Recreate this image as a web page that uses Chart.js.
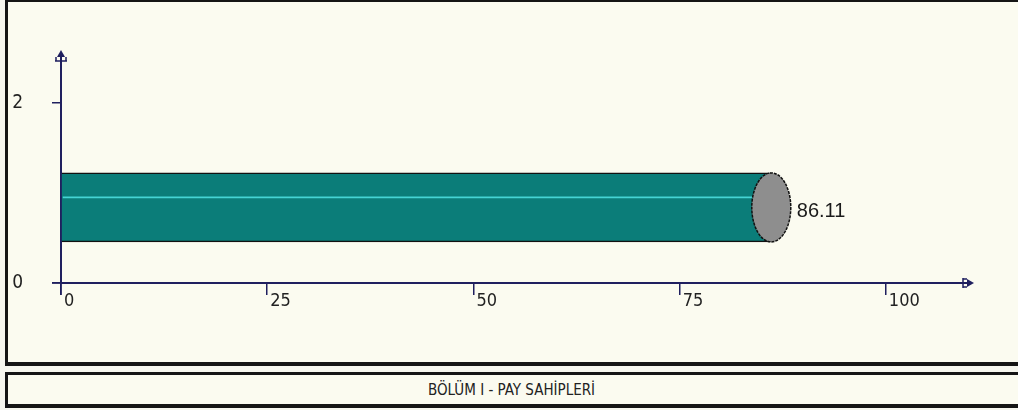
<!DOCTYPE html>
<html>
<head>
<meta charset="utf-8">
<script src="https://cdn.jsdelivr.net/npm/chart.js@4.4.1/dist/chart.umd.min.js"></script>
<style>
  html, body { margin:0; padding:0; background:#f6f6ee; width:1018px; height:410px; overflow:hidden; }
  #panel { position:absolute; left:5px; top:0; width:1030px; height:360px; background:#fbfbf0;
           border-top:2px solid #151515; border-left:3px solid #151515; border-bottom:4px solid #151515; }
  #titlebox { position:absolute; left:5px; top:372px; width:1030px; height:29px; background:#fbfbf0;
           border:3px solid #151515; border-bottom-width:4px; border-right:none; }
  #title { position:absolute; left:5px; top:372px; width:1013px; height:36px; line-height:36px; text-align:center;
           font-family:'Liberation Sans Narrow','DejaVu Sans Condensed','Liberation Sans',Arial,sans-serif;
           font-size:15px; color:#222; }
  #wrap { position:absolute; left:0; top:0; width:1018px; height:410px; }
</style>
</head>
<body>
<div id="panel"></div>
<div id="titlebox"></div>
<div id="title">BÖLÜM I - PAY SAHİPLERİ</div>
<div id="wrap"><canvas id="c" width="1018" height="410"></canvas></div>
<script>
// ---- data ----
const categories = ['BÖLÜM I - PAY SAHİPLERİ'];
const scores = [86.11];
const barPositions = [0.84];
const xTickValues = [0, 25, 50, 75, 100];
const yTickValues = [0, 2];
const chartTitle = 'BÖLÜM I - PAY SAHİPLERİ';

const narrow = "'Liberation Sans Narrow','DejaVu Sans Condensed','Liberation Sans',Arial,sans-serif";
const axisColor = '#1f1f5f';

const cylinderPlugin = {
  id: 'cylinder',
  afterDatasetsDraw(chart) {
    const ctx = chart.ctx;
    const meta = chart.getDatasetMeta(0);
    meta.data.forEach((bar, i) => {
      const props = bar.getProps(['x', 'y', 'base', 'height'], true);
      const xEnd = props.x, yc = props.y, h = props.height, base = props.base;
      const rx = 19.5, ry = h / 2;
      ctx.save();
      // highlight line
      ctx.strokeStyle = '#45d4d4';
      ctx.lineWidth = 1.6;
      ctx.beginPath();
      ctx.moveTo(base + 1, yc - h * 0.145);
      ctx.lineTo(xEnd - rx + 1, yc - h * 0.145);
      ctx.stroke();
      // end cap
      ctx.beginPath();
      ctx.ellipse(xEnd, yc, rx, ry, 0, 0, Math.PI * 2);
      ctx.fillStyle = '#8e8e8e';
      ctx.fill();
      ctx.strokeStyle = '#111';
      ctx.lineWidth = 1.5;
      ctx.setLineDash([3, 1]);
      ctx.stroke();
      ctx.setLineDash([]);
      // value label
      ctx.fillStyle = '#1a1a1a';
      ctx.font = "20px 'Liberation Sans',Arial,sans-serif";
      ctx.textAlign = 'left';
      ctx.textBaseline = 'middle';
      ctx.fillText(scores[i].toFixed(2), xEnd + rx + 6, yc + 4);
      ctx.restore();
    });
  }
};

const arrowPlugin = {
  id: 'arrows',
  afterDraw(chart) {
    const ctx = chart.ctx;
    const a = chart.chartArea;
    ctx.save();
    ctx.fillStyle = axisColor;
    ctx.strokeStyle = axisColor;
    ctx.lineWidth = 1.5;
    // axis extensions past the origin (zero ticks)
    ctx.beginPath();
    ctx.moveTo(a.left, a.bottom); ctx.lineTo(a.left, a.bottom + 12);
    ctx.moveTo(a.left, a.bottom); ctx.lineTo(a.left - 9, a.bottom);
    ctx.stroke();
    // y-axis arrow (top)
    const x0 = a.left, yt = a.top;
    ctx.beginPath();
    ctx.moveTo(x0, yt - 5);
    ctx.lineTo(x0 - 4, yt + 2);
    ctx.lineTo(x0 + 4, yt + 2);
    ctx.closePath();
    ctx.fill();
    ctx.beginPath();
    ctx.moveTo(x0 - 6, yt + 6); ctx.lineTo(x0 + 6, yt + 6);
    ctx.moveTo(x0 - 5, yt + 2); ctx.lineTo(x0 - 5, yt + 6);
    ctx.moveTo(x0 + 5, yt + 2); ctx.lineTo(x0 + 5, yt + 6);
    ctx.moveTo(x0, yt); ctx.lineTo(x0, yt + 8);
    ctx.stroke();
    // x-axis arrow (right)
    const xr = a.right, y0 = a.bottom;
    ctx.beginPath();
    ctx.moveTo(xr + 4, y0);
    ctx.lineTo(xr - 3, y0 - 4);
    ctx.lineTo(xr - 3, y0 + 4);
    ctx.closePath();
    ctx.fill();
    ctx.beginPath();
    ctx.moveTo(xr - 7, y0 - 5); ctx.lineTo(xr - 7, y0 + 5);
    ctx.moveTo(xr - 7, y0 - 4); ctx.lineTo(xr - 3, y0 - 4);
    ctx.moveTo(xr - 7, y0 + 4); ctx.lineTo(xr - 3, y0 + 4);
    ctx.moveTo(xr - 10, y0); ctx.lineTo(xr, y0);
    ctx.stroke();
    ctx.restore();
  }
};

new Chart(document.getElementById('c'), {
  type: 'bar',
  data: {
    datasets: [{
      label: categories[0],
      data: scores.map((v, i) => ({ x: v, y: barPositions[i] })),
      backgroundColor: '#0b7d79',
      borderColor: '#111',
      borderWidth: { top: 1.5, bottom: 1.5, left: 0, right: 0 },
      borderSkipped: false,
      barThickness: 69
    }]
  },
  options: {
    indexAxis: 'y',
    responsive: false,
    animation: false,
    layout: { padding: { left: 0, top: 55, right: 48, bottom: 0 } },
    plugins: { legend: { display: false }, tooltip: { enabled: false }, title: { display: false } },
    scales: {
      x: {
        type: 'linear', position: 'bottom',
        min: 0, max: 110.2,
        offset: false,
        afterBuildTicks: s => { s.ticks = xTickValues.map(v => ({ value: v })); },
        afterFit: s => { s.height = 127; },
        border: { display: true, color: axisColor, width: 2 },
        grid: { display: true, offset: false, drawOnChartArea: false, drawTicks: true, tickLength: 12, color: axisColor, lineWidth: 1.5 },
        ticks: { align: 'start', labelOffset: 3, padding: -4, color: '#222', font: { family: narrow, size: 18 } }
      },
      y: {
        type: 'linear', position: 'left',
        min: 0, max: 2.533,
        offset: false,
        afterBuildTicks: s => { s.ticks = yTickValues.map(v => ({ value: v })); },
        afterFit: s => { s.width = 61; },
        border: { display: true, color: axisColor, width: 2 },
        grid: { display: true, offset: false, drawOnChartArea: false, drawTicks: true, tickLength: 9, color: axisColor, lineWidth: 1.5 },
        ticks: { padding: 29, color: '#222', font: { family: narrow, size: 19 } }
      }
    }
  },
  plugins: [cylinderPlugin, arrowPlugin]
});
</script>
</body>
</html>
